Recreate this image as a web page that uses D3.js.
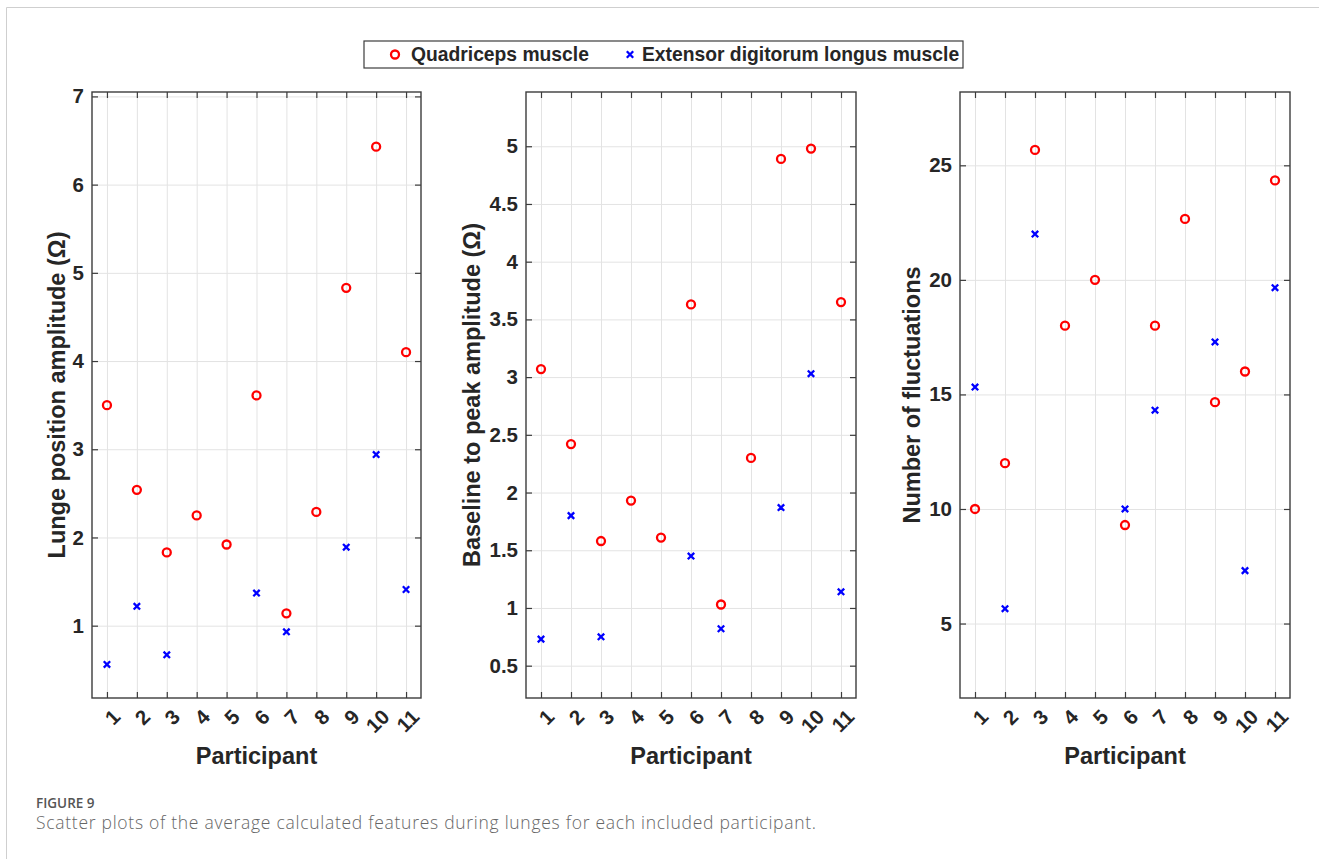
<!DOCTYPE html>
<html>
<head>
<meta charset="utf-8">
<script src="https://cdn.jsdelivr.net/npm/d3@7/dist/d3.min.js"></script>
<style>
  body { margin: 0; background: #fff; }
  #chart text { font-family: "Liberation Sans", Arial, sans-serif; }
  #chart text.caption { font-family: "Open Sans", sans-serif; }
</style>
</head>
<body>
<svg id="chart" width="1319" height="859"></svg>
<script>
// Data (null = no point for that participant)
const participants = [1, 2, 3, 4, 5, 6, 7, 8, 9, 10, 11];
const seriesNames = ["Quadriceps muscle", "Extensor digitorum longus muscle"];

const lungeQuad = [3.50, 2.54, 1.83, 2.25, 1.92, 3.61, 1.14, 2.29, 4.83, 6.43, 4.10];
const lungeEdl  = [0.56, 1.22, 0.67, null, null, 1.37, 0.93, null, 1.89, 2.94, 1.41];
const lungeTicks = [1, 2, 3, 4, 5, 6, 7];

const peakQuad = [3.07, 2.42, 1.58, 1.93, 1.61, 3.63, 1.03, 2.30, 4.89, 4.98, 3.65];
const peakEdl  = [0.73, 1.80, 0.75, null, null, 1.45, 0.82, null, 1.87, 3.03, 1.14];
const peakTicks = [0.5, 1, 1.5, 2, 2.5, 3, 3.5, 4, 4.5, 5];

const flucQuad = [10, 12, 25.67, 18, 20, 9.3, 18, 22.66, 14.66, 16, 24.34];
const flucEdl  = [15.32, 5.65, 22, null, null, 10, 14.31, null, 17.29, 7.31, 19.66];
const flucTicks = [5, 10, 15, 20, 25];

const panels = [
  { label: "Lunge position amplitude (\u03A9)", quad: lungeQuad, edl: lungeEdl, ticks: lungeTicks, domain: [0.18, 7.05], left: 92, width: 329, labelOffset: 27 },
  { label: "Baseline to peak amplitude (\u03A9)", quad: peakQuad, edl: peakEdl, ticks: peakTicks, domain: [0.22, 5.47], left: 526, width: 330, labelOffset: 46 },
  { label: "Number of fluctuations", quad: flucQuad, edl: flucEdl, ticks: flucTicks, domain: [1.75, 28.2], left: 960, width: 330, labelOffset: 40 }
];

const RED = "#ff0000", BLUE = "#0000ff", AXIS = "#262626", LINE = "#3c3c3c", GRID = "#e3e3e3";
const plotTop = 92, plotHeight = 606;
const xPath = "M-3.2,-3.2L3.2,3.2M-3.2,3.2L3.2,-3.2";

const svg = d3.select("#chart");

// page frame
svg.append("path").attr("d", "M6.5,859V7.5H1319").attr("fill", "none").attr("stroke", "#cfcfcf");

panels.forEach(p => drawPanel(p));
drawLegend();
drawCaption();

function drawPanel(p) {
  const w = p.width, h = plotHeight;
  const x = d3.scaleLinear().domain([0.5, 11.5]).range([0, w]);
  const y = d3.scaleLinear().domain(p.domain).range([h, 0]);

  const g = svg.append("g").attr("transform", `translate(${p.left},${plotTop})`);

  // grid
  g.append("g").attr("class", "grid").attr("transform", `translate(0,${h})`)
    .call(d3.axisBottom(x).tickValues(participants).tickSize(-h).tickFormat(""));
  g.append("g").attr("class", "grid")
    .call(d3.axisLeft(y).tickValues(p.ticks).tickSize(-w).tickFormat(""));
  g.selectAll(".grid line").attr("stroke", GRID);

  // axes with inward ticks
  const xAxis = g.append("g").attr("class", "ax").attr("transform", `translate(0,${h})`)
    .call(d3.axisBottom(x).tickValues(participants).tickSizeInner(-6).tickSizeOuter(0));
  xAxis.selectAll("text")
    .attr("x", 0).attr("y", 0).attr("dy", "0.35em")
    .attr("text-anchor", "end")
    .attr("transform", "translate(9,15) rotate(-45)");

  g.append("g").attr("class", "ax")
    .call(d3.axisLeft(y).tickValues(p.ticks).tickFormat(d3.format("~g"))
      .tickSizeInner(-6).tickSizeOuter(0).tickPadding(8));

  g.append("g").attr("class", "ax")
    .call(d3.axisTop(x).tickValues(participants).tickSizeInner(-6).tickSizeOuter(0).tickFormat(""));
  g.append("g").attr("class", "ax").attr("transform", `translate(${w},0)`)
    .call(d3.axisRight(y).tickValues(p.ticks).tickSizeInner(-6).tickSizeOuter(0).tickFormat(""));

  g.selectAll(".domain").remove();
  g.selectAll(".ax line").attr("stroke", LINE).attr("stroke-width", 1.2);
  g.selectAll(".ax text")
    .attr("fill", AXIS).style("font-size", "20.5px").style("font-weight", "bold");

  // box
  g.append("rect").attr("width", w).attr("height", h).attr("fill", "none")
    .attr("stroke", LINE).attr("stroke-width", 1.4);

  // labels
  g.append("text")
    .attr("transform", "rotate(-90)")
    .attr("x", -h / 2).attr("y", -p.labelOffset)
    .attr("text-anchor", "middle")
    .attr("fill", AXIS)
    .style("font-size", "23.5px").style("font-weight", "bold")
    .text(p.label);
  g.append("text")
    .attr("x", w / 2).attr("y", h + 66)
    .attr("text-anchor", "middle")
    .attr("fill", AXIS)
    .style("font-size", "23.5px").style("font-weight", "bold")
    .text("Participant");

  // markers
  const quadPts = participants.map((d, i) => ({ p: d, v: p.quad[i] })).filter(d => d.v != null);
  const edlPts = participants.map((d, i) => ({ p: d, v: p.edl[i] })).filter(d => d.v != null);

  g.selectAll(".quad").data(quadPts).enter().append("circle")
    .attr("class", "quad")
    .attr("cx", d => x(d.p)).attr("cy", d => y(d.v)).attr("r", 4)
    .attr("fill", "none").attr("stroke", RED).attr("stroke-width", 2.3);

  g.selectAll(".edl").data(edlPts).enter().append("path")
    .attr("class", "edl")
    .attr("transform", d => `translate(${x(d.p)},${y(d.v)})`)
    .attr("d", xPath)
    .attr("fill", "none").attr("stroke", BLUE).attr("stroke-width", 2.3);
}

function drawLegend() {
  const lg = svg.append("g").attr("transform", "translate(364,41)");
  lg.append("rect").attr("width", 599).attr("height", 27)
    .attr("fill", "#fff").attr("stroke", LINE).attr("stroke-width", 1.2);
  lg.append("circle").attr("cx", 31).attr("cy", 13.5).attr("r", 4)
    .attr("fill", "none").attr("stroke", RED).attr("stroke-width", 2.3);
  lg.append("text").attr("x", 47).attr("y", 13.5).attr("dy", "0.35em")
    .attr("fill", AXIS).style("font-size", "19.3px").style("font-weight", "bold")
    .text(seriesNames[0]);
  lg.append("path").attr("transform", "translate(266,13.5)").attr("d", xPath)
    .attr("fill", "none").attr("stroke", BLUE).attr("stroke-width", 2.3);
  lg.append("text").attr("x", 278).attr("y", 13.5).attr("dy", "0.35em")
    .attr("fill", AXIS).style("font-size", "19.3px").style("font-weight", "bold")
    .text(seriesNames[1]);
}

function drawCaption() {
  svg.append("text").attr("class", "caption")
    .attr("x", 36).attr("y", 808)
    .attr("fill", "#555").style("font-size", "13.5px").style("font-weight", 600)
    .text("FIGURE 9");
  svg.append("text").attr("class", "caption")
    .attr("x", 36).attr("y", 829)
    .attr("fill", "#666").style("font-size", "17.5px").style("font-weight", 300)
    .attr("textLength", 780).attr("lengthAdjust", "spacing")
    .text("Scatter plots of the average calculated features during lunges for each included participant.");
}
</script>
</body>
</html>
